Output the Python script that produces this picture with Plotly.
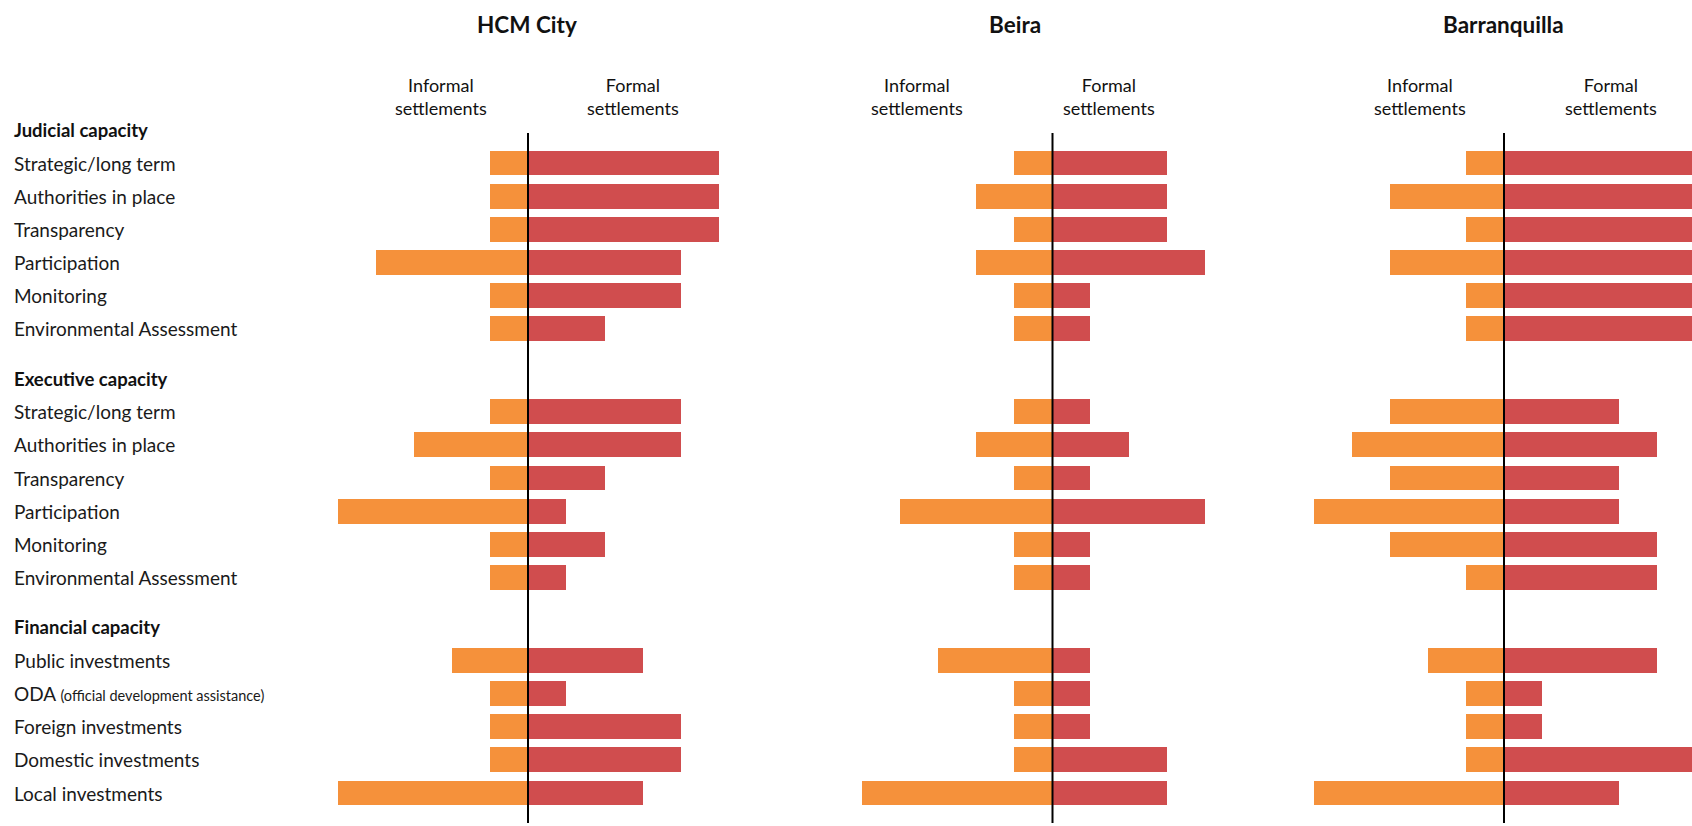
import plotly.graph_objects as go

# Row labels, grouped by capacity type
group_titles = ["Judicial capacity", "Executive capacity", "Financial capacity"]
judicial_items = ["Strategic/long term", "Authorities in place", "Transparency",
                  "Participation", "Monitoring", "Environmental Assessment"]
executive_items = ["Strategic/long term", "Authorities in place", "Transparency",
                   "Participation", "Monitoring", "Environmental Assessment"]
financial_items = ["Public investments",
                   "ODA <span style='font-size:14.5px'>(official development assistance)</span>",
                   "Foreign investments", "Domestic investments", "Local investments"]

cities = ["HCM City", "Beira", "Barranquilla"]

# Scores per row (judicial 6, executive 6, financial 5)
hcm_informal = [1, 1, 1, 4, 1, 1,  1, 3, 1, 5, 1, 1,  2, 1, 1, 1, 5]
hcm_formal   = [5, 5, 5, 4, 4, 2,  4, 4, 2, 1, 2, 1,  3, 1, 4, 4, 3]
beira_informal = [1, 2, 1, 2, 1, 1,  1, 2, 1, 4, 1, 1,  3, 1, 1, 1, 5]
beira_formal   = [3, 3, 3, 4, 1, 1,  1, 2, 1, 4, 1, 1,  1, 1, 1, 3, 3]
barr_informal = [1, 3, 1, 3, 1, 1,  3, 4, 3, 5, 3, 1,  2, 1, 1, 1, 5]
barr_formal   = [5, 5, 5, 5, 5, 5,  3, 4, 3, 3, 4, 4,  4, 1, 1, 5, 3]

informal_values = [hcm_informal, beira_informal, barr_informal]
formal_values = [hcm_formal, beira_formal, barr_formal]

INFORMAL_COLOR = "#F5913B"
FORMAL_COLOR = "#D04D4E"
FONT = "Lato"
W, H = 1692, 826

# Build row positions: each group has a header row followed by its items,
# with a little extra space before each new group.
GROUP_GAP = 0.5
header_pos, item_pos, item_labels = [], [], []
p = 0.0
for gi, items in enumerate([judicial_items, executive_items, financial_items]):
    if gi > 0:
        p += GROUP_GAP
    header_pos.append(p)
    p += 1
    for it in items:
        item_pos.append(p)
        item_labels.append(it)
        p += 1

# Pixel layout of each panel's zero line and scale
unit_px = 38.1
zero_px = [528, 1052.5, 1504]
left_units = 5.6

fig = go.Figure()
axis_names = ["x", "x2", "x3"]
for ci, city in enumerate(cities):
    xa = axis_names[ci]
    fig.add_trace(go.Bar(
        orientation="h", y=item_pos, x=[-v for v in informal_values[ci]],
        base=0, width=0.75, marker=dict(color=INFORMAL_COLOR, line=dict(width=0)),
        xaxis=xa, yaxis="y", showlegend=False, hoverinfo="skip"))
    fig.add_trace(go.Bar(
        orientation="h", y=item_pos, x=formal_values[ci],
        base=0, width=0.75, marker=dict(color=FORMAL_COLOR, line=dict(width=0)),
        xaxis=xa, yaxis="y", showlegend=False, hoverinfo="skip"))

layout_axes = {}
for ci in range(3):
    left_px = zero_px[ci] - left_units * unit_px
    right_px = min(W, zero_px[ci] + left_units * unit_px)
    right_units = (right_px - zero_px[ci]) / unit_px
    key = "xaxis" if ci == 0 else f"xaxis{ci + 1}"
    layout_axes[key] = dict(
        domain=[left_px / W, right_px / W], range=[-left_units, right_units],
        showgrid=False, zeroline=False, showticklabels=False, ticks="",
        showline=False, anchor="y", fixedrange=True)

# Vertical scale: first item row centre at 163 px, last at 793 px
row_px = (793 - 163) / (item_pos[-1] - item_pos[0])
top_px = 163 - row_px * item_pos[0]
y_range = [(H - top_px) / row_px, -top_px / row_px]

fig.update_layout(
    width=W, height=H, margin=dict(l=0, r=0, t=0, b=0),
    paper_bgcolor="white", plot_bgcolor="white",
    barmode="overlay", bargap=0,
    yaxis=dict(domain=[0, 1], range=y_range, showgrid=False, zeroline=False,
               showticklabels=False, ticks="", showline=False, fixedrange=True),
    font=dict(family=FONT, color="#1a1a1a"),
    **layout_axes)

# Zero lines between informal and formal bars
line_top = header_pos[0] + (133 - top_px) / row_px
line_bottom = item_pos[-1] + (823 - 793) / row_px
for ci in range(3):
    fig.add_shape(type="line", xref=axis_names[ci], yref="y",
                  x0=0, x1=0, y0=line_top, y1=line_bottom,
                  line=dict(color="black", width=2), layer="above")

annotations = []
LABEL_X = 12 / W
# Row labels
for pos, txt in zip(header_pos, group_titles):
    annotations.append(dict(x=LABEL_X, xref="paper", y=pos, yref="y", text=f"<b>{txt}</b>",
                            showarrow=False, xanchor="left", yanchor="middle",
                            font=dict(size=18.5, family=FONT, color="#111")))
for pos, txt in zip(item_pos, item_labels):
    annotations.append(dict(x=LABEL_X, xref="paper", y=pos, yref="y", text=txt,
                            showarrow=False, xanchor="left", yanchor="middle",
                            font=dict(size=19, family=FONT, color="#1a1a1a")))

# City titles
title_px = [527, 1015, 1503]
for city, xp in zip(cities, title_px):
    annotations.append(dict(x=xp / W, xref="paper", y=1 - 25 / H, yref="paper",
                            text=f"<b>{city}</b>", showarrow=False,
                            xanchor="center", yanchor="middle",
                            font=dict(size=22.5, family=FONT, color="#111")))

# Column headers
informal_px = [441, 917, 1420]
formal_px = [633, 1109, 1611]
for xi, xf in zip(informal_px, formal_px):
    for xp, txt in [(xi, "Informal<br>settlements"), (xf, "Formal<br>settlements")]:
        annotations.append(dict(x=xp / W, xref="paper", y=1 - 96 / H, yref="paper",
                                text=txt, showarrow=False, xanchor="center",
                                yanchor="middle", align="center",
                                font=dict(size=18, family=FONT, color="#111")))

fig.update_layout(annotations=annotations)
fig.write_html("out.html")
